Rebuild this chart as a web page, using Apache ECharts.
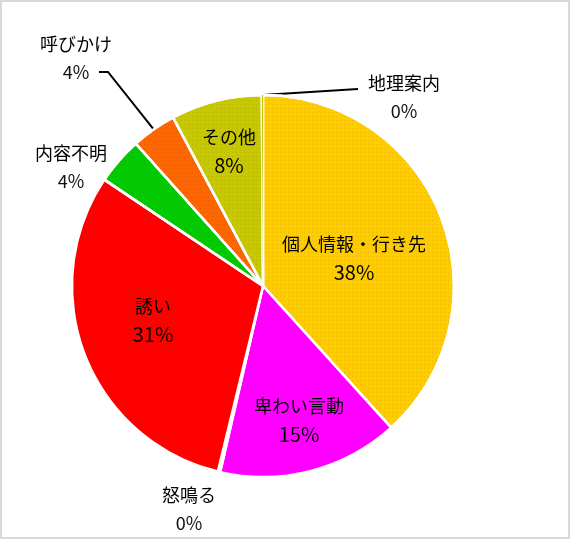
<!DOCTYPE html>
<html>
<head>
<meta charset="utf-8">
<script src="https://cdn.jsdelivr.net/npm/echarts@6/dist/echarts.min.js"></script>
<style>
    html, body { margin: 0; padding: 0; background: #fff; }
    #chart { position: absolute; left: 0; top: 0; width: 570px; height: 539px; }
    #frame { position: absolute; left: 0; top: 0; width: 570px; height: 539px;
             box-sizing: border-box; border: 2px solid #d9d9d9; pointer-events: none; }
</style>
</head>
<body>
<div id="chart"></div>
<div id="frame"></div>
<script>
// 分類と割合 (%)
var categories = ['個人情報・行き先', '卑わい言動', '怒鳴る', '誘い', '内容不明', '呼びかけ', 'その他', '地理案内'];
var values = [38.3, 15.3, 0.2, 30.6, 4.0, 3.8, 7.7, 0.1];
var colors = ['#ffcc00', '#ff00ff', '#ff0000', '#ff0000', '#00cc00', '#ff6600', '#c8c800', '#c8c800'];

// ラベルの置き場所 (Excel の配置に合わせる)
var labelSpots = [
    [354, 258], [299, 420], [189, 509], [153, 320],
    [71, 167], [76, 58], [229, 151], [404, 97]
];
// 引き出し線の折れ点
var leaderBends = {
    5: [[108, 72], [99, 72]],
    7: [[358, 89]]
};
var outsideIdx = [2, 4, 5, 7];

var dots = {
    symbol: 'rect',
    symbolSize: 1,
    color: 'rgba(0,0,0,0.09)',
    dashArrayX: [1, 3],
    dashArrayY: [1, 3]
};

var chart = echarts.init(document.getElementById('chart'));

var pieData = categories.map(function (name, i) {
    var item = {
        name: name,
        value: values[i],
        itemStyle: { color: colors[i] }
    };
    if (i === 0 || i === 4 || i === 5 || i === 6) {
        item.itemStyle.decal = dots;
    }
    // ほぼ 0 の地理案内は枠線なし
    if (i === 7) {
        item.itemStyle.borderWidth = 0;
    }
    var outside = outsideIdx.indexOf(i) >= 0;
    item.labelLine = { show: !!leaderBends[i] };
    item.label = { position: outside ? 'outside' : 'inside' };
    return item;
});

var option = {
    animation: false,
    series: [{
        type: 'pie',
        center: [263, 286],
        radius: 191,
        startAngle: 90,
        clockwise: true,
        avoidLabelOverlap: false,
        itemStyle: {
            borderColor: '#ffffff',
            borderWidth: 2.5
        },
        label: {
            show: true,
            formatter: function (p) {
                var inner = outsideIdx.indexOf(p.dataIndex) < 0;
                return '{n|' + p.name + '}\n{' + (inner ? 'b' : 'p') + '|' + Math.round(p.percent) + '%}';
            },
            rich: {
                n: { fontSize: 18, lineHeight: 28, color: '#000', align: 'center',
                     fontFamily: 'Noto Sans CJK JP' },
                p: { fontSize: 18, lineHeight: 28, color: '#111', align: 'center',
                     fontFamily: 'Noto Sans CJK JP' },
                b: { fontSize: 20, lineHeight: 28, color: '#000', align: 'center',
                     fontFamily: 'Noto Sans CJK JP' }
            }
        },
        labelLine: {
            lineStyle: { color: '#000', width: 2 }
        },
        labelLayout: function (params) {
            var i = params.dataIndex;
            var spot = labelSpots[i];
            var res = { x: spot[0], y: spot[1], align: 'center', verticalAlign: 'middle' };
            if (leaderBends[i]) {
                var start = params.labelLinePoints ? params.labelLinePoints[0] : [263, 95];
                res.labelLinePoints = [[start[0], start[1]]].concat(leaderBends[i]);
            }
            return res;
        },
        data: pieData
    }]
};

chart.setOption(option);
</script>
</body>
</html>
